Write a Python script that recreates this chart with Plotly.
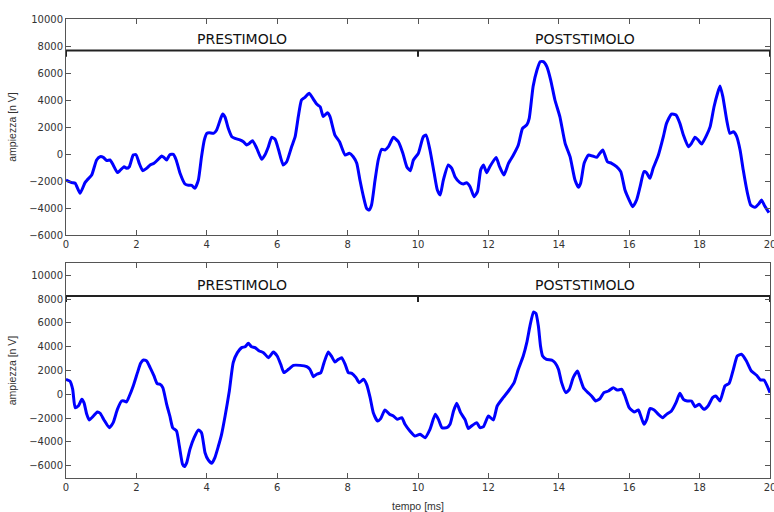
import plotly.graph_objects as go

# ---- recorded traces (time in ms, amplitude in nV) ----
t_pre = [0, 0.16, 0.26, 0.4, 0.54, 0.6, 0.73, 0.87, 0.97, 1.06, 1.16, 1.25, 1.34, 1.46, 1.53, 1.65,
         1.72, 1.8, 1.91, 1.99, 2.08, 2.18, 2.29, 2.39, 2.5, 2.62, 2.72, 2.78, 2.86, 2.95, 3.05, 3.13,
         3.24, 3.38, 3.48, 3.57, 3.66, 3.76, 3.85, 3.93, 4.0, 4.07, 4.19, 4.28, 4.38, 4.45, 4.52, 4.61,
         4.71, 4.8, 4.94, 5.04, 5.13, 5.21, 5.3, 5.42, 5.56, 5.65, 5.75, 5.84, 5.94, 6.04, 6.17, 6.27,
         6.41, 6.51, 6.6, 6.69, 6.79, 6.91, 7.03, 7.12, 7.22, 7.31, 7.43, 7.5, 7.64, 7.77, 7.93, 8.05,
         8.16, 8.26, 8.35, 8.45, 8.54, 8.61, 8.68, 8.78, 8.87, 8.97, 9.06, 9.16, 9.3, 9.44, 9.57, 9.68,
         9.78, 9.87, 10.01, 10.15, 10.23, 10.34, 10.46, 10.55, 10.63, 10.72, 10.86, 10.96, 11.05, 11.19,
         11.29, 11.38, 11.48, 11.59, 11.69, 11.78, 11.86, 11.95, 12.04, 12.22, 12.31, 12.44, 12.57, 12.71,
         12.85, 12.97, 13.09, 13.16, 13.27, 13.38, 13.47, 13.56, 13.66, 13.77, 13.89, 14.03, 14.18, 14.32,
         14.46, 14.56, 14.62, 14.72, 14.84, 14.96, 15.08, 15.15, 15.25, 15.38, 15.5, 15.64, 15.76, 15.88,
         16.0, 16.1, 16.21, 16.31, 16.42, 16.49, 16.59, 16.68, 16.83, 16.97, 17.06, 17.2, 17.33, 17.44,
         17.54, 17.68, 17.77, 17.87, 17.96, 18.06, 18.2, 18.3, 18.41, 18.51, 18.58, 18.66, 18.77, 18.86,
         18.96, 19.05, 19.15, 19.24, 19.36, 19.45, 19.57, 19.69, 19.76, 19.85, 19.97]
v_pre = [-1930, -2120, -2170, -2910, -2120, -1930, -1560, -440, -200, -250, -490, -440, -815, -1380, -1235, -940,
         -1060, -940, -75, -50, -690, -1235, -1060, -815, -690, -395, -150, -250, -440, -50, -25, -440,
         -1430, -2220, -2320, -2320, -2540, -1930, -200, 1040, 1530, 1580, 1530, 1780, 2520, 2960, 2720, 1900,
         1280, 1160, 1040, 910, 670, 790, 990, 420, -395, -75, 540, 1235, 1090, 300, -815, -570,
         540, 1280, 2770, 4000, 4200, 4500, 4050, 3700, 3500, 2770, 3060, 2770, 1400, 910, -75, 50,
         -200, -690, -1930, -3160, -4030, -4150, -3780, -1930, -445, 350, 300, 540, 1235, 910, 50, -940,
         -1235, -445, 50, 1280, 1400, 300, -1430, -2670, -3040, -1930, -815, -1060, -1680, -2120,
         -2220, -2120, -2420, -3160, -2790, -1190, -815, -1380, -940, -250, -890, -1560, -690, -75,
         670, 1900, 2150, 2640, 5000, 6220, 6840, 6840, 6470, 5480, 4000, 2770, 790, -200,
         -1930, -2470, -2170, -690, -75, -150, -250, 0, 300, -570, -690, -940, -1310, -2670,
         -3410, -3900, -3410, -2420, -1310, -1380, -1800, -1060, -75, 1280, 2270, 2960, 2890, 2270,
         1400, 540, 790, 1235, 1040, 740, 1400, 2025, 3500, 4500, 5040, 4250, 2520, 1530,
         1650, 1330, 300, -1190, -2910, -3780, -3950, -3660, -3410, -3850, -4350]

t_post = [0, 0.11, 0.19, 0.26, 0.35, 0.45, 0.51, 0.59, 0.66, 0.78, 0.89, 0.97, 1.08, 1.23, 1.34, 1.46,
          1.58, 1.65, 1.72, 1.8, 1.91, 2.03, 2.12, 2.2, 2.29, 2.39, 2.5, 2.59, 2.67, 2.75, 2.86, 2.95,
          3.03, 3.14, 3.22, 3.31, 3.36, 3.43, 3.52, 3.64, 3.76, 3.85, 3.95, 4.04, 4.14, 4.23, 4.33, 4.42,
          4.52, 4.64, 4.75, 4.87, 4.99, 5.09, 5.18, 5.27, 5.37, 5.49, 5.61, 5.75, 5.89, 6.0, 6.1, 6.19,
          6.32, 6.46, 6.65, 6.84, 6.93, 7.03, 7.12, 7.24, 7.33, 7.45, 7.55, 7.64, 7.74, 7.83, 7.93, 8.02,
          8.12, 8.24, 8.33, 8.45, 8.54, 8.64, 8.73, 8.85, 8.94, 9.06, 9.19, 9.3, 9.41, 9.54, 9.63, 9.77,
          9.91, 10.06, 10.2, 10.34, 10.49, 10.58, 10.68, 10.82, 10.91, 11.01, 11.1, 11.21, 11.34, 11.43,
          11.52, 11.67, 11.76, 11.86, 12.0, 12.14, 12.25, 12.42, 12.57, 12.73, 12.85, 12.99, 13.09, 13.18,
          13.28, 13.35, 13.42, 13.48, 13.54, 13.65, 13.8, 13.89, 13.99, 14.08, 14.2, 14.3, 14.41, 14.53,
          14.6, 14.7, 14.81, 14.93, 15.05, 15.17, 15.28, 15.41, 15.55, 15.66, 15.79, 15.88, 16.0, 16.14,
          16.26, 16.33, 16.42, 16.5, 16.59, 16.71, 16.83, 16.95, 17.06, 17.2, 17.33, 17.44, 17.54, 17.65,
          17.77, 17.87, 17.99, 18.12, 18.24, 18.37, 18.46, 18.58, 18.72, 18.84, 18.96, 19.07, 19.19, 19.33,
          19.47, 19.62, 19.73, 19.83, 20.0]
v_post = [1260, 1120, 420, -1120, -980, -420, -700, -1680, -2150, -1820, -1480, -1590, -2150, -2800, -2380, -1260,
          -560, -560, -640, -140, 700, 1820, 2600, 2880, 2800, 2240, 1540, 900, 840, 560, -840, -1820,
          -2800, -3080, -4340, -5870, -6070, -5730, -4620, -3640, -2990, -3220, -4900, -5510, -5790, -5310, -4340, -3360,
          -1820, 280, 2660, 3500, 3920, 4000, 4280, 4000, 3920, 3640, 3500, 3080, 3550, 3220, 2520, 1820,
          2100, 2430, 2430, 2320, 2100, 1480, 1680, 1820, 2660, 3550, 3160, 2710, 2940, 3080, 2520, 1820,
          1760, 1400, 980, 1260, 840, -280, -1540, -2240, -2040, -1310, -1680, -1820, -2100, -1960, -2520, -3080,
          -3500, -3360, -3640, -2940, -1680, -2100, -2800, -2800, -2520, -1400, -760, -1540, -2150, -2880,
          -2660, -2380, -2800, -2710, -1820, -2150, -980, -280, 280, 980, 2100, 3220, 4340, 5730,
          6910, 6800, 5730, 4060, 3220, 2940, 2880, 2660, 2100, 980, 140, 420, 1400, 1960,
          1400, 560, 200, -140, -560, -360, 140, 280, 560, 360, 420, -140, -1120, -1480,
          -1310, -1820, -2520, -2100, -1200, -1310, -1680, -1960, -1680, -1400, -700, 80, -420, -560,
          -560, -1040, -840, -1260, -980, -280, -140, -560, 700, 920, 2100, 3220, 3360, 2800,
          1960, 1600, 1200, 1200, 140]

# bracket marking the two windows: ends at 0 and 20, divider at 10
bracket_x = [0, 0, 10, 10, 10, 20, 20]
bracket_drop = [1, 0, 0, 1, 0, 0, 1]
bracket_level = [7660, 8250]
bracket_depth = [450, 500]
label_text = ["PRESTIMOLO", "POSTSTIMOLO"]
label_x = [5.0, 14.75]
label_y = [8500, 9150]

x_ticks = list(range(0, 21, 2))
y_ticks = list(range(-6000, 10001, 2000))
y_ranges = [[-6000, 10000], [-7000, 11000]]

BLUE = "#0000ff"
FRAME = "#555555"
TXT = "#333333"
FONT = "DejaVu Sans"
LABEL_FONT = "Liberation Sans"

fig = go.Figure()

series = [(t_pre, v_pre), (t_post, v_post)]
for i, (tt, vv) in enumerate(series):
    xa = "x" if i == 0 else "x2"
    ya = "y" if i == 0 else "y2"
    fig.add_trace(go.Scatter(x=tt, y=vv, mode="lines", xaxis=xa, yaxis=ya,
                             line=dict(color=BLUE, width=3, shape="spline", smoothing=0.5),
                             showlegend=False, hoverinfo="skip"))
    by = [bracket_level[i] - d * bracket_depth[i] for d in bracket_drop]
    fig.add_trace(go.Scatter(x=bracket_x, y=by, mode="lines", xaxis=xa, yaxis=ya,
                             line=dict(color="#222222", width=2),
                             showlegend=False, hoverinfo="skip"))
    for lx, txt in zip(label_x, label_text):
        fig.add_annotation(x=lx, y=label_y[i], xref=xa, yref=ya, text=txt, showarrow=False,
                           font=dict(family=FONT, size=14, color="#111111"))

xdom = [66 / 774, 770 / 774]
ydoms = [[1 - 235 / 512, 1 - 19 / 512], [1 - 477.7 / 512, 1 - 263.3 / 512]]

axis_common = dict(showgrid=False, zeroline=False, showline=True, linecolor=FRAME, linewidth=1,
                   mirror="ticks", ticks="inside", ticklen=5, tickcolor=FRAME,
                   ticklabeloverflow="allow", tickformat="d", automargin=False,
                   tickfont=dict(family=FONT, size=10, color=TXT))

ytitle = dict(text="ampiezza [n V]", font=dict(family=LABEL_FONT, size=10.5, color=TXT), standoff=10)

fig.update_layout(
    width=774, height=512,
    margin=dict(l=0, r=0, t=0, b=0, autoexpand=False),
    paper_bgcolor="white", plot_bgcolor="white",
    xaxis=dict(domain=xdom, range=[0, 20], tickvals=x_ticks, anchor="y", **axis_common),
    yaxis=dict(domain=ydoms[0], range=y_ranges[0], tickvals=y_ticks, anchor="x",
               title=ytitle, **axis_common),
    xaxis2=dict(domain=xdom, range=[0, 20], tickvals=x_ticks, anchor="y2",
                title=dict(text="tempo [ms]", font=dict(family=LABEL_FONT, size=10.5, color=TXT), standoff=14),
                **axis_common),
    yaxis2=dict(domain=ydoms[1], range=y_ranges[1], tickvals=y_ticks, anchor="x2",
                title=ytitle, **axis_common),
)

fig.write_html("out.html")
